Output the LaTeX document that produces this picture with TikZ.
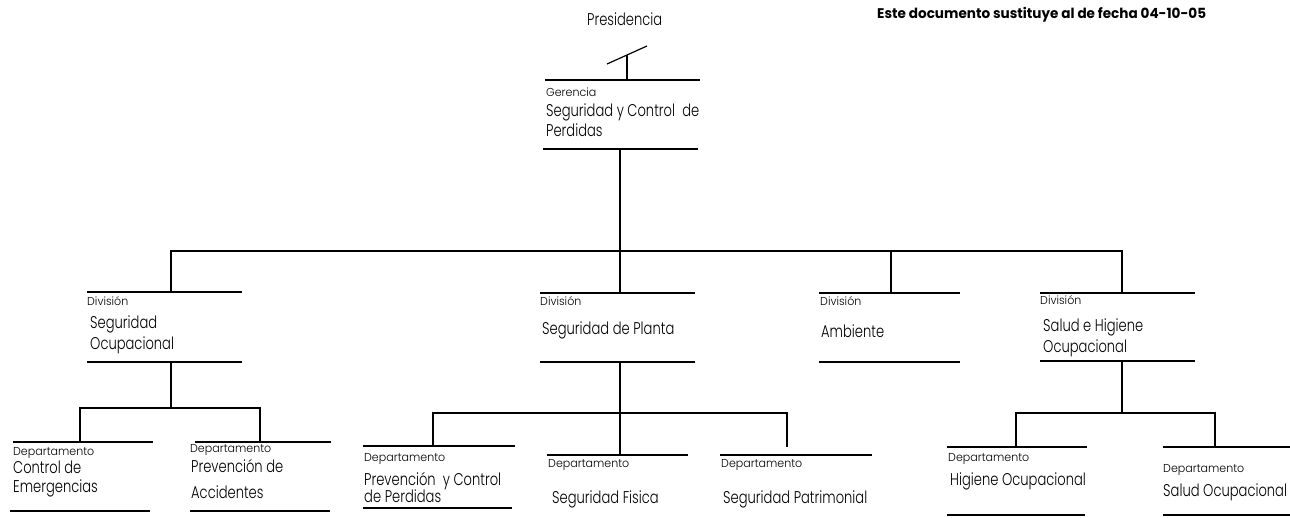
\documentclass[tikz,border=0pt]{standalone}
\usepackage{fontspec}
\setmainfont{Poppins}
\newfontfamily\namefont{Poppins Light}[FakeStretch=0.77]
\newfontfamily\tagfont{Poppins Light}[FakeStretch=0.96]
\newfontfamily\notefont{Poppins}[FakeStretch=0.97]
\begin{document}
\begin{tikzpicture}[x=1pt,y=-1pt]
\tikzset{
  rule/.style={line width=1.2pt},
  link/.style={line width=1.9pt},
  lbl/.style={anchor=base west, inner sep=0pt, font=\namefont\fontsize{17}{17}\selectfont},
  tag/.style={anchor=base west, inner sep=0pt, font=\tagfont\fontsize{11.5}{11.5}\selectfont},
  note/.style={anchor=base west, inner sep=0pt, font=\notefont\bfseries\fontsize{14}{14}\selectfont},
}
\useasboundingbox (0,0) rectangle (1290,518);

% header note and top of the chain
\node[note] (note) at (877,19) {Este documento sustituye al de fecha 04-10-05};
\node[lbl] (pres) at (587,26) {Presidencia};
\coordinate (slashA) at (607,64);
\coordinate (slashB) at (647,46);
\draw[rule] (slashA) -- (slashB);
\coordinate (presdrop) at (627,55);

% Gerencia
\coordinate (ger-in) at (627,80);
\coordinate (ger-out) at (620,149);
\draw[rule] (545,80) -- (700,80);
\draw[rule] (543,149) -- (698,149);
\node[tag] (ger-t) at (546,97) {Gerencia};
\node[lbl] (ger-a) at (546,117) {Seguridad y Control\ \ de};
\node[lbl] (ger-b) at (546,137) {Perdidas};
\draw[link] (presdrop) -- (ger-in);

% main bus
\coordinate (bus) at (620,251);
\coordinate (div1-in) at (171,292);
\coordinate (div2-in) at (620,293);
\coordinate (div3-in) at (891,293);
\coordinate (div4-in) at (1122,293);
\draw[link] (ger-out) -- (bus);
\draw[link] (div1-in) -- (div1-in |- bus) -- (div4-in |- bus) -- (div4-in);
\draw[link] (bus) -- (div2-in);
\draw[link] (div3-in |- bus) -- (div3-in);

% Division: Seguridad Ocupacional
\draw[rule] (87,292) -- (242,292);
\draw[rule] (87,362) -- (242,362);
\node[tag] (div1-t) at (87,306) {División};
\node[lbl] (div1-a) at (90,329) {Seguridad};
\node[lbl] (div1-b) at (90,349) {Ocupacional};
\coordinate (div1-out) at (171,362);

% Division: Seguridad de Planta
\draw[rule] (540,293) -- (695,293);
\draw[rule] (540,362) -- (695,362);
\node[tag] (div2-t) at (540,306) {División};
\node[lbl] (div2-a) at (542,335) {Seguridad de Planta};
\coordinate (div2-out) at (620,362);

% Division: Ambiente
\draw[rule] (819,293) -- (960,293);
\draw[rule] (819,362) -- (960,362);
\node[tag] (div3-t) at (820,306) {División};
\node[lbl] (div3-a) at (821,338) {Ambiente};

% Division: Salud e Higiene Ocupacional
\draw[rule] (1040,293) -- (1195,293);
\draw[rule] (1040,361) -- (1195,361);
\node[tag] (div4-t) at (1040,305) {División};
\node[lbl] (div4-a) at (1043,332) {Salud e Higiene};
\node[lbl] (div4-b) at (1043,353) {Ocupacional};
\coordinate (div4-out) at (1122,361);

% departments under Seguridad Ocupacional
\coordinate (sb1) at (171,408);
\coordinate (dA-in) at (80,442);
\coordinate (dB-in) at (260,442);
\draw[link] (div1-out) -- (sb1);
\draw[link] (dA-in) -- (dA-in |- sb1) -- (dB-in |- sb1) -- (dB-in);

\draw[rule] (13,442) -- (153,442);
\draw[rule] (10,511) -- (150,511);
\node[tag] (dA-t) at (13,455) {Departamento};
\node[lbl] (dA-a) at (13,473) {Control de};
\node[lbl] (dA-b) at (13,492) {Emergencias};

\draw[rule] (195,442) -- (331,442);
\draw[rule] (190,511) -- (330,511);
\node[tag] (dB-t) at (190,452) {Departamento};
\node[lbl] (dB-a) at (191,472) {Prevención de};
\node[lbl] (dB-b) at (191,498) {Accidentes};

% departments under Seguridad de Planta
\coordinate (sb2) at (620,413);
\coordinate (dC-in) at (433,446);
\coordinate (dD-in) at (620,455);
\coordinate (dE-in) at (787,447);
\draw[link] (div2-out) -- (dD-in);
\draw[link] (dC-in) -- (dC-in |- sb2) -- (dE-in |- sb2) -- (dE-in);

\draw[rule] (363,446) -- (515,446);
\draw[rule] (363,508) -- (512,508);
\node[tag] (dC-t) at (364,461) {Departamento};
\node[lbl] (dC-a) at (364,485) {Prevención\ \ y Control};
\node[lbl] (dC-b) at (364,502) {de Perdidas};

\draw[rule] (547,455) -- (688,455);
\node[tag] (dD-t) at (548,467) {Departamento};
\node[lbl] (dD-a) at (552,503) {Seguridad Fisica};

\draw[rule] (720,455) -- (872,455);
\node[tag] (dE-t) at (721,467) {Departamento};
\node[lbl] (dE-a) at (723,503) {Seguridad Patrimonial};

% departments under Salud e Higiene Ocupacional
\coordinate (sb3) at (1122,413);
\coordinate (dF-in) at (1016,447);
\coordinate (dG-in) at (1215,447);
\draw[link] (div4-out) -- (sb3);
\draw[link] (dF-in) -- (dF-in |- sb3) -- (dG-in |- sb3) -- (dG-in);

\draw[rule] (947,447) -- (1087,447);
\draw[rule] (947,515) -- (1085,515);
\node[tag] (dF-t) at (948,461) {Departamento};
\node[lbl] (dF-a) at (950,485) {Higiene Ocupacional};

\draw[rule] (1163,447) -- (1290,447);
\draw[rule] (1163,515) -- (1290,515);
\node[tag] (dG-t) at (1163,472) {Departamento};
\node[lbl] (dG-a) at (1163,496) {Salud Ocupacional};
\end{tikzpicture}
\end{document}
